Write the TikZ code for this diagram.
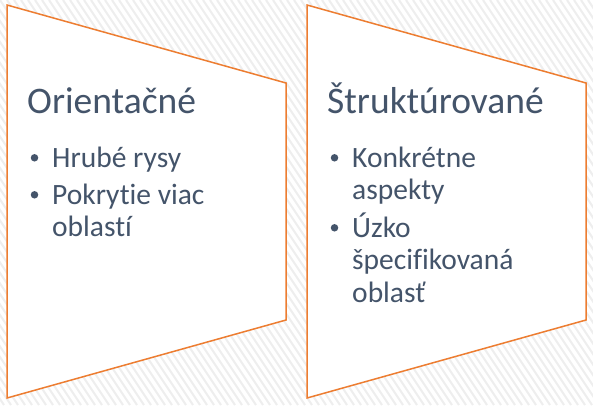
\documentclass[tikz,border=0pt]{standalone}
\usepackage{fontspec}
\setmainfont{Carlito}[Ligatures=NoCommon]
\usetikzlibrary{positioning,calc}
\definecolor{rimorange}{HTML}{ED7D31}
\definecolor{inktext}{HTML}{44546A}
\definecolor{stripegray}{HTML}{EEEEEE}

\begin{document}
\begin{tikzpicture}[x=1pt,y=-1pt]
\tikzstyle{panel} = [draw=rimorange, fill=white, line width=1.5pt]
\tikzstyle{nadpis} = [inner sep=0pt, text=inktext, font=\fontsize{37.5}{40}\selectfont]
\tikzstyle{bod} = [inner sep=0pt, text=inktext, font=\fontsize{29.5}{32.5}\selectfont]
\tikzstyle{gulka} = [circle, fill=inktext, inner sep=0pt, minimum size=7.5pt]

% pozadie s pruhmi
\fill[white] (0,0) rectangle (593,405);
\begin{scope}
\clip (0,0) rectangle (593,405);
\foreach \k in {-280,-273,...,600}
  \draw[stripegray, line width=2pt] (\k,0) -- ++(270,405);
\end{scope}
\useasboundingbox (0,0) rectangle (593,405);

% lavy panel
\draw[panel] (7,5) -- (286,83) -- (286,320) -- (7,398) -- cycle;

\node [nadpis, anchor=base west] (orient) at (27,113.3) {Orientačné};

\node [bod] (hrube) [below right=54pt and 25pt of orient.base west, anchor=base west] {Hrubé rysy};
\node [gulka] (g1) at ($(hrube.base west)+(-17.5pt,9.5pt)$) {};

\node [bod] (pokrytie) [below=37pt of hrube.base west, anchor=base west] {\vtop{\hbox{Pokrytie viac}\hbox{oblastí}}};
\node [gulka] (g2) at ($(pokrytie.base west)+(-17.5pt,9.5pt)$) {};

% pravy panel
\draw[panel] (307,5) -- (586,83) -- (586,320) -- (307,398) -- cycle;

\node [nadpis, anchor=base west] (strukt) at (327,113.3) {Štruktúrované};

\node [bod] (konkr) [below right=54pt and 25pt of strukt.base west, anchor=base west] {\vtop{\hbox{Konkrétne}\hbox{aspekty}}};
\node [gulka] (g3) at ($(konkr.base west)+(-17.5pt,9.5pt)$) {};

\node [bod] (uzko) [below=70pt of konkr.base west, anchor=base west] {\vtop{\hbox{Úzko}\hbox{špecifikovaná}\hbox{oblasť}}};
\node [gulka] (g4) at ($(uzko.base west)+(-17.5pt,9.5pt)$) {};
\end{tikzpicture}
\end{document}
